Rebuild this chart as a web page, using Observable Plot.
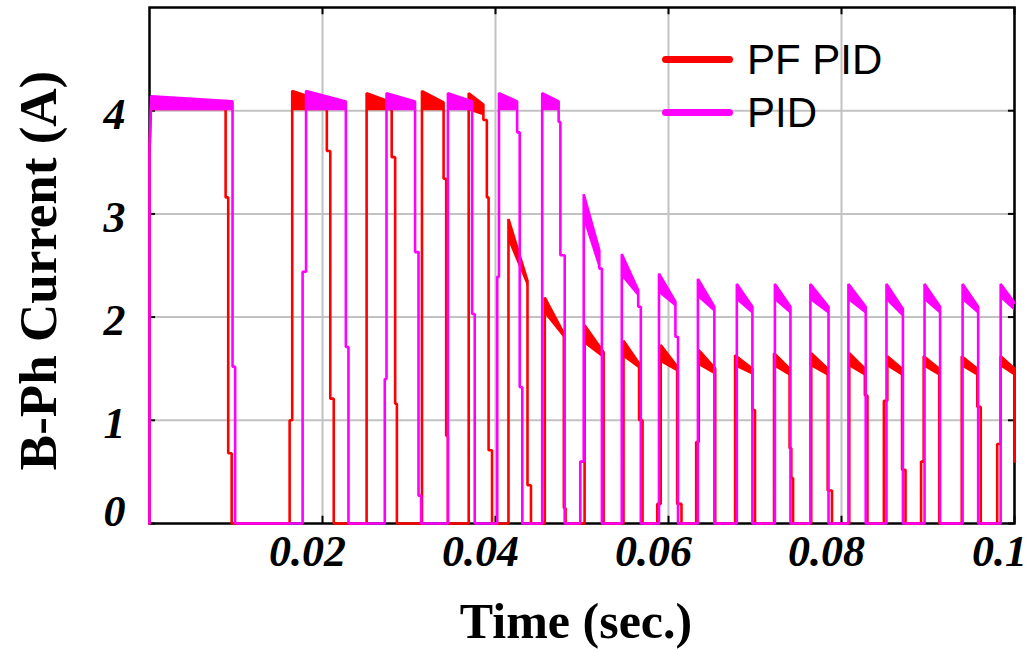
<!DOCTYPE html>
<html>
<head>
<meta charset="utf-8">
<script src="https://cdn.jsdelivr.net/npm/d3@7"></script>
<script src="https://cdn.jsdelivr.net/npm/@observablehq/plot@0.6"></script>
<style>
  body { margin: 0; background: #fff; }
  #wrap { position: relative; width: 1027px; height: 649px; overflow: hidden; }
  .legend { position: absolute; left: 662px; top: 33px; font-family: "Liberation Sans", Arial, sans-serif; font-size: 42px; color: #000; }
  .legend .row { display: flex; align-items: center; height: 53px; }
  .legend .sw { width: 71px; height: 7px; border-radius: 4px; margin-right: 14px; }
</style>
</head>
<body>
<div id="wrap"></div>
<script>
// ---- data ----
const seriesNames = ["PF PID", "PID"];
const seriesColors = ["#ff0000", "#ff00ff"];
const xTicks = [0.02, 0.04, 0.06, 0.08, 0.1];
const xTickLabels = ["0.02", "0.04", "0.06", "0.08", "0.1"];
const yTicks = [0, 1, 2, 3, 4];
const yTickLabels = ["0", "1", "2", "3", "4"];

// PF PID current waveform vertices [time (s), current (A)]
const pfPath = [
  [0,0],[0,3.6],[0.0002,4.12],[0.0088,4.08],[0.0088,3.16],[0.0091,3.16],[0.0091,0.68],[0.0095,0.68],[0.0095,0],
  [0.0162,0],[0.0162,1.0],[0.0165,1.0],[0.0165,4.19],[0.0205,4.08],[0.0205,3.61],[0.0209,3.61],[0.0209,1.21],[0.0213,1.21],[0.0213,0],
  [0.0251,0],[0.0251,4.17],[0.0280,4.08],[0.0280,3.55],[0.0284,3.55],[0.0284,1.16],[0.0286,1.16],[0.0286,0],
  [0.0315,0],[0.0315,4.19],[0.0340,4.08],[0.0340,3.34],[0.0343,3.34],[0.0343,0.85],[0.0345,0.85],[0.0345,0],
  [0.0369,0],[0.0369,4.17],[0.0386,4.06],[0.0386,3.91],[0.0390,3.91],[0.0390,3.16],[0.0392,3.16],[0.0392,0.71],[0.0396,0.71],[0.0396,0],
  [0.0415,0],[0.0415,2.95],[0.0437,2.35],[0.0437,0.37],[0.0441,0.37],[0.0441,0],
  [0.0457,0],[0.0457,2.19],[0.0479,1.84],[0.0479,0.15],[0.0481,0.15],[0.0481,0],
  [0.0503,0],[0.0503,1.92],[0.0525,1.66],[0.0525,0],
  [0.0548,0],[0.0548,1.77],[0.0566,1.55],[0.0566,1.0],[0.0570,1.0],[0.0570,0],
  [0.0587,0],[0.0587,0.19],[0.0591,0.19],[0.0591,1.73],[0.0610,1.52],[0.0610,0.19],[0.0615,0.19],[0.0615,0],
  [0.0632,0],[0.0632,0.79],[0.0635,0.79],[0.0635,1.68],[0.0654,1.50],[0.0654,0],
  [0.0677,0],[0.0677,1.63],[0.0697,1.50],[0.0697,1.1],[0.0700,1.1],[0.0700,0],
  [0.0722,0],[0.0722,1.65],[0.0740,1.50],[0.0740,0.73],[0.0742,0.73],[0.0742,0.44],[0.0744,0.44],[0.0744,0],
  [0.0765,0],[0.0765,1.65],[0.0784,1.50],[0.0784,0.32],[0.0789,0.32],[0.0789,0],
  [0.0809,0],[0.0809,1.65],[0.0827,1.50],[0.0827,1.24],[0.0830,1.24],[0.0830,0],
  [0.0849,0],[0.0849,1.19],[0.0853,1.19],[0.0853,1.62],[0.0870,1.50],[0.0870,0.52],[0.0874,0.52],[0.0874,0],
  [0.0892,0],[0.0892,0.6],[0.0895,0.6],[0.0895,1.62],[0.0913,1.50],[0.0913,0],
  [0.0939,0],[0.0939,1.62],[0.0957,1.50],[0.0957,1.13],[0.0961,1.13],[0.0961,0],
  [0.0980,0],[0.0980,0.77],[0.0984,0.77],[0.0984,1.62],[0.1,1.50],[0.1,0.6]
];

// PID current waveform vertices [time (s), current (A)]
const pidPath = [
  [0,0],[0,3.6],[0.0002,4.14],[0.0096,4.09],[0.0096,1.52],[0.0099,1.52],[0.0099,0],
  [0.0177,0],[0.0177,2.44],[0.0181,2.44],[0.0181,4.19],[0.0227,4.09],[0.0227,1.71],[0.0230,1.71],[0.0230,0],
  [0.0272,0],[0.0272,1.4],[0.0274,1.4],[0.0274,4.17],[0.0307,4.09],[0.0307,2.63],[0.0311,2.63],[0.0311,0.27],[0.0314,0.27],[0.0314,0],
  [0.0345,0],[0.0345,4.17],[0.0373,4.09],[0.0373,2.03],[0.0376,2.03],[0.0376,0],
  [0.0402,0],[0.0402,2.39],[0.0404,2.39],[0.0404,4.17],[0.0425,4.09],[0.0425,3.79],[0.0428,3.79],[0.0428,1.32],[0.0431,1.32],[0.0431,0],
  [0.0454,0],[0.0454,4.17],[0.0473,4.09],[0.0473,3.89],[0.0475,3.89],[0.0475,2.6],[0.0480,2.6],[0.0480,0],
  [0.0498,0],[0.0498,0.6],[0.0502,0.6],[0.0502,3.19],[0.0520,2.65],[0.0520,2.47],[0.0523,2.47],[0.0523,0],
  [0.0546,0],[0.0546,2.61],[0.0565,2.26],[0.0565,2.1],[0.0568,2.1],[0.0568,0],
  [0.0589,0],[0.0589,2.42],[0.0608,2.15],[0.0608,1.81],[0.0611,1.81],[0.0611,0],
  [0.0634,0],[0.0634,2.37],[0.0653,2.10],[0.0653,0],
  [0.0679,0],[0.0679,2.32],[0.0697,2.10],[0.0697,0],
  [0.0723,0],[0.0723,2.32],[0.0741,2.10],[0.0741,0],
  [0.0764,0],[0.0764,2.32],[0.0785,2.10],[0.0785,0],
  [0.0808,0],[0.0808,2.32],[0.0828,2.10],[0.0828,0],
  [0.0852,0],[0.0852,2.32],[0.0871,2.08],[0.0871,0],
  [0.0896,0],[0.0896,2.32],[0.0914,2.10],[0.0914,0],
  [0.0940,0],[0.0940,2.32],[0.0958,2.10],[0.0958,0],
  [0.0984,0],[0.0984,2.32],[0.1,2.14]
];

// ripple bands on the pulse tops: [t start, t end, top start, top end, bottom start, bottom end]
const pfBands = [
  [0.0002,0.0088,4.12,4.08,4.0,4.0],
  [0.0165,0.0205,4.19,4.08,4.0,4.0],
  [0.0251,0.0280,4.17,4.08,4.0,4.0],
  [0.0315,0.0340,4.19,4.08,4.0,4.0],
  [0.0369,0.0386,4.17,4.06,4.0,3.95],
  [0.0415,0.0437,2.95,2.35,2.74,2.30],
  [0.0457,0.0479,2.19,1.84,2.03,1.80],
  [0.0503,0.0525,1.92,1.66,1.74,1.60],
  [0.0548,0.0566,1.77,1.55,1.61,1.50],
  [0.0591,0.0610,1.73,1.52,1.56,1.47],
  [0.0635,0.0654,1.68,1.50,1.53,1.44],
  [0.0677,0.0697,1.63,1.50,1.52,1.44],
  [0.0722,0.0740,1.65,1.50,1.52,1.43],
  [0.0765,0.0784,1.65,1.50,1.52,1.43],
  [0.0809,0.0827,1.65,1.50,1.52,1.43],
  [0.0853,0.0870,1.62,1.50,1.52,1.43],
  [0.0895,0.0913,1.62,1.50,1.52,1.43],
  [0.0939,0.0957,1.62,1.50,1.52,1.43],
  [0.0984,0.1000,1.62,1.50,1.52,1.43]
];
const pidBands = [
  [0.0002,0.0096,4.14,4.09,4.0,4.0],
  [0.0181,0.0227,4.19,4.09,4.0,4.0],
  [0.0274,0.0307,4.17,4.09,4.0,4.0],
  [0.0345,0.0373,4.17,4.09,4.0,4.0],
  [0.0404,0.0425,4.17,4.09,4.0,4.0],
  [0.0454,0.0473,4.17,4.09,4.0,4.0],
  [0.0502,0.0520,3.19,2.65,2.94,2.47],
  [0.0546,0.0565,2.61,2.26,2.39,2.20],
  [0.0589,0.0608,2.42,2.15,2.23,2.10],
  [0.0634,0.0653,2.37,2.10,2.19,2.05],
  [0.0679,0.0697,2.32,2.10,2.16,2.03],
  [0.0723,0.0741,2.32,2.10,2.16,2.03],
  [0.0764,0.0785,2.32,2.10,2.16,2.03],
  [0.0808,0.0828,2.32,2.10,2.16,2.03],
  [0.0852,0.0871,2.32,2.08,2.16,2.00],
  [0.0896,0.0914,2.32,2.10,2.16,2.03],
  [0.0940,0.0958,2.32,2.10,2.16,2.03],
  [0.0984,0.1000,2.32,2.14,2.18,2.06]
];

// ---- build tables ----
const toLine = (path) => path.map(([t, i]) => ({t, i}));
const toBands = (bands) => bands.flatMap(([t0, t1, h0, h1, l0, l1], k) => [
  {k, t: t0, lo: l0, hi: h0}, {k, t: t1, lo: l1, hi: h1}
]);

const serif = "'Liberation Serif', 'Times New Roman', Times, serif";
const tickFont = {fontSize: 44, fontWeight: "bold", fontStyle: "italic", fontFamily: serif, fill: "black"};
const titleFont = {fontWeight: "bold", fontFamily: serif, fill: "black"};

const chart = Plot.plot({
  width: 1027,
  height: 649,
  marginLeft: 149,
  marginRight: 13,
  marginTop: 7,
  marginBottom: 126,
  x: {domain: [0, 0.1], axis: null},
  y: {domain: [0, 5], axis: null},
  style: {background: "white"},
  marks: [
    Plot.ruleX(xTicks, {x: d => d, stroke: "#c2c2c2", strokeWidth: 2}),
    Plot.ruleY(yTicks.filter(d => d > 0), {y: d => d, stroke: "#c2c2c2", strokeWidth: 2}),
    Plot.frame({stroke: "black", strokeWidth: 2.5}),
    // inward tick marks on all four sides
    Plot.ruleX(xTicks, {x: d => d, y1: 0, y2: 0.07, stroke: "black", strokeWidth: 2}),
    Plot.ruleX(xTicks, {x: d => d, y1: 4.93, y2: 5, stroke: "black", strokeWidth: 2}),
    Plot.ruleY(yTicks, {y: d => d, x1: 0, x2: 0.0007, stroke: "black", strokeWidth: 2}),
    Plot.ruleY(yTicks, {y: d => d, x1: 0.0993, x2: 0.1, stroke: "black", strokeWidth: 2}),
    // PF PID
    Plot.areaY(toBands(pfBands), {x: "t", y1: "lo", y2: "hi", z: "k", fill: seriesColors[0]}),
    Plot.line(toLine(pfPath), {x: "t", y: "i", stroke: seriesColors[0], strokeWidth: 2.6, strokeLinejoin: "miter"}),
    // PID
    Plot.areaY(toBands(pidBands), {x: "t", y1: "lo", y2: "hi", z: "k", fill: seriesColors[1]}),
    Plot.line(toLine(pidPath), {x: "t", y: "i", stroke: seriesColors[1], strokeWidth: 2.6, strokeLinejoin: "miter"}),
    // tick labels
    Plot.text(xTicks, {x: d => d, text: (d, i) => xTickLabels[i], frameAnchor: "bottom", dy: 28, dx: -15, textAnchor: "middle", lineAnchor: "middle", ...tickFont}),
    Plot.text(yTicks.filter(d => d > 0), {y: d => d, text: d => yTickLabels[yTicks.indexOf(d)], frameAnchor: "left", dx: -24, dy: 4, textAnchor: "end", lineAnchor: "middle", ...tickFont}),
    Plot.text(yTicks.filter(d => d === 0), {y: d => d, text: d => yTickLabels[yTicks.indexOf(d)], frameAnchor: "left", dx: -24, dy: -12, textAnchor: "end", lineAnchor: "middle", ...tickFont}),
    // axis titles
    Plot.text(["B-Ph Current (A)"], {frameAnchor: "left", dx: -110, dy: 5, rotate: -90, textAnchor: "middle", lineAnchor: "middle", fontSize: 53, ...titleFont}),
    Plot.text(["Time (sec.)"], {frameAnchor: "bottom", dy: 98, dx: -6, textAnchor: "middle", lineAnchor: "middle", fontSize: 50, ...titleFont})
  ]
});

const wrap = document.getElementById("wrap");
wrap.appendChild(chart);

// legend (inside the plot area, upper right)
const legend = document.createElement("div");
legend.className = "legend";
seriesNames.forEach((name, i) => {
  const row = document.createElement("div");
  row.className = "row";
  const sw = document.createElement("div");
  sw.className = "sw";
  sw.style.background = seriesColors[i];
  const label = document.createElement("span");
  label.textContent = name;
  row.appendChild(sw);
  row.appendChild(label);
  legend.appendChild(row);
});
wrap.appendChild(legend);
</script>
</body>
</html>
